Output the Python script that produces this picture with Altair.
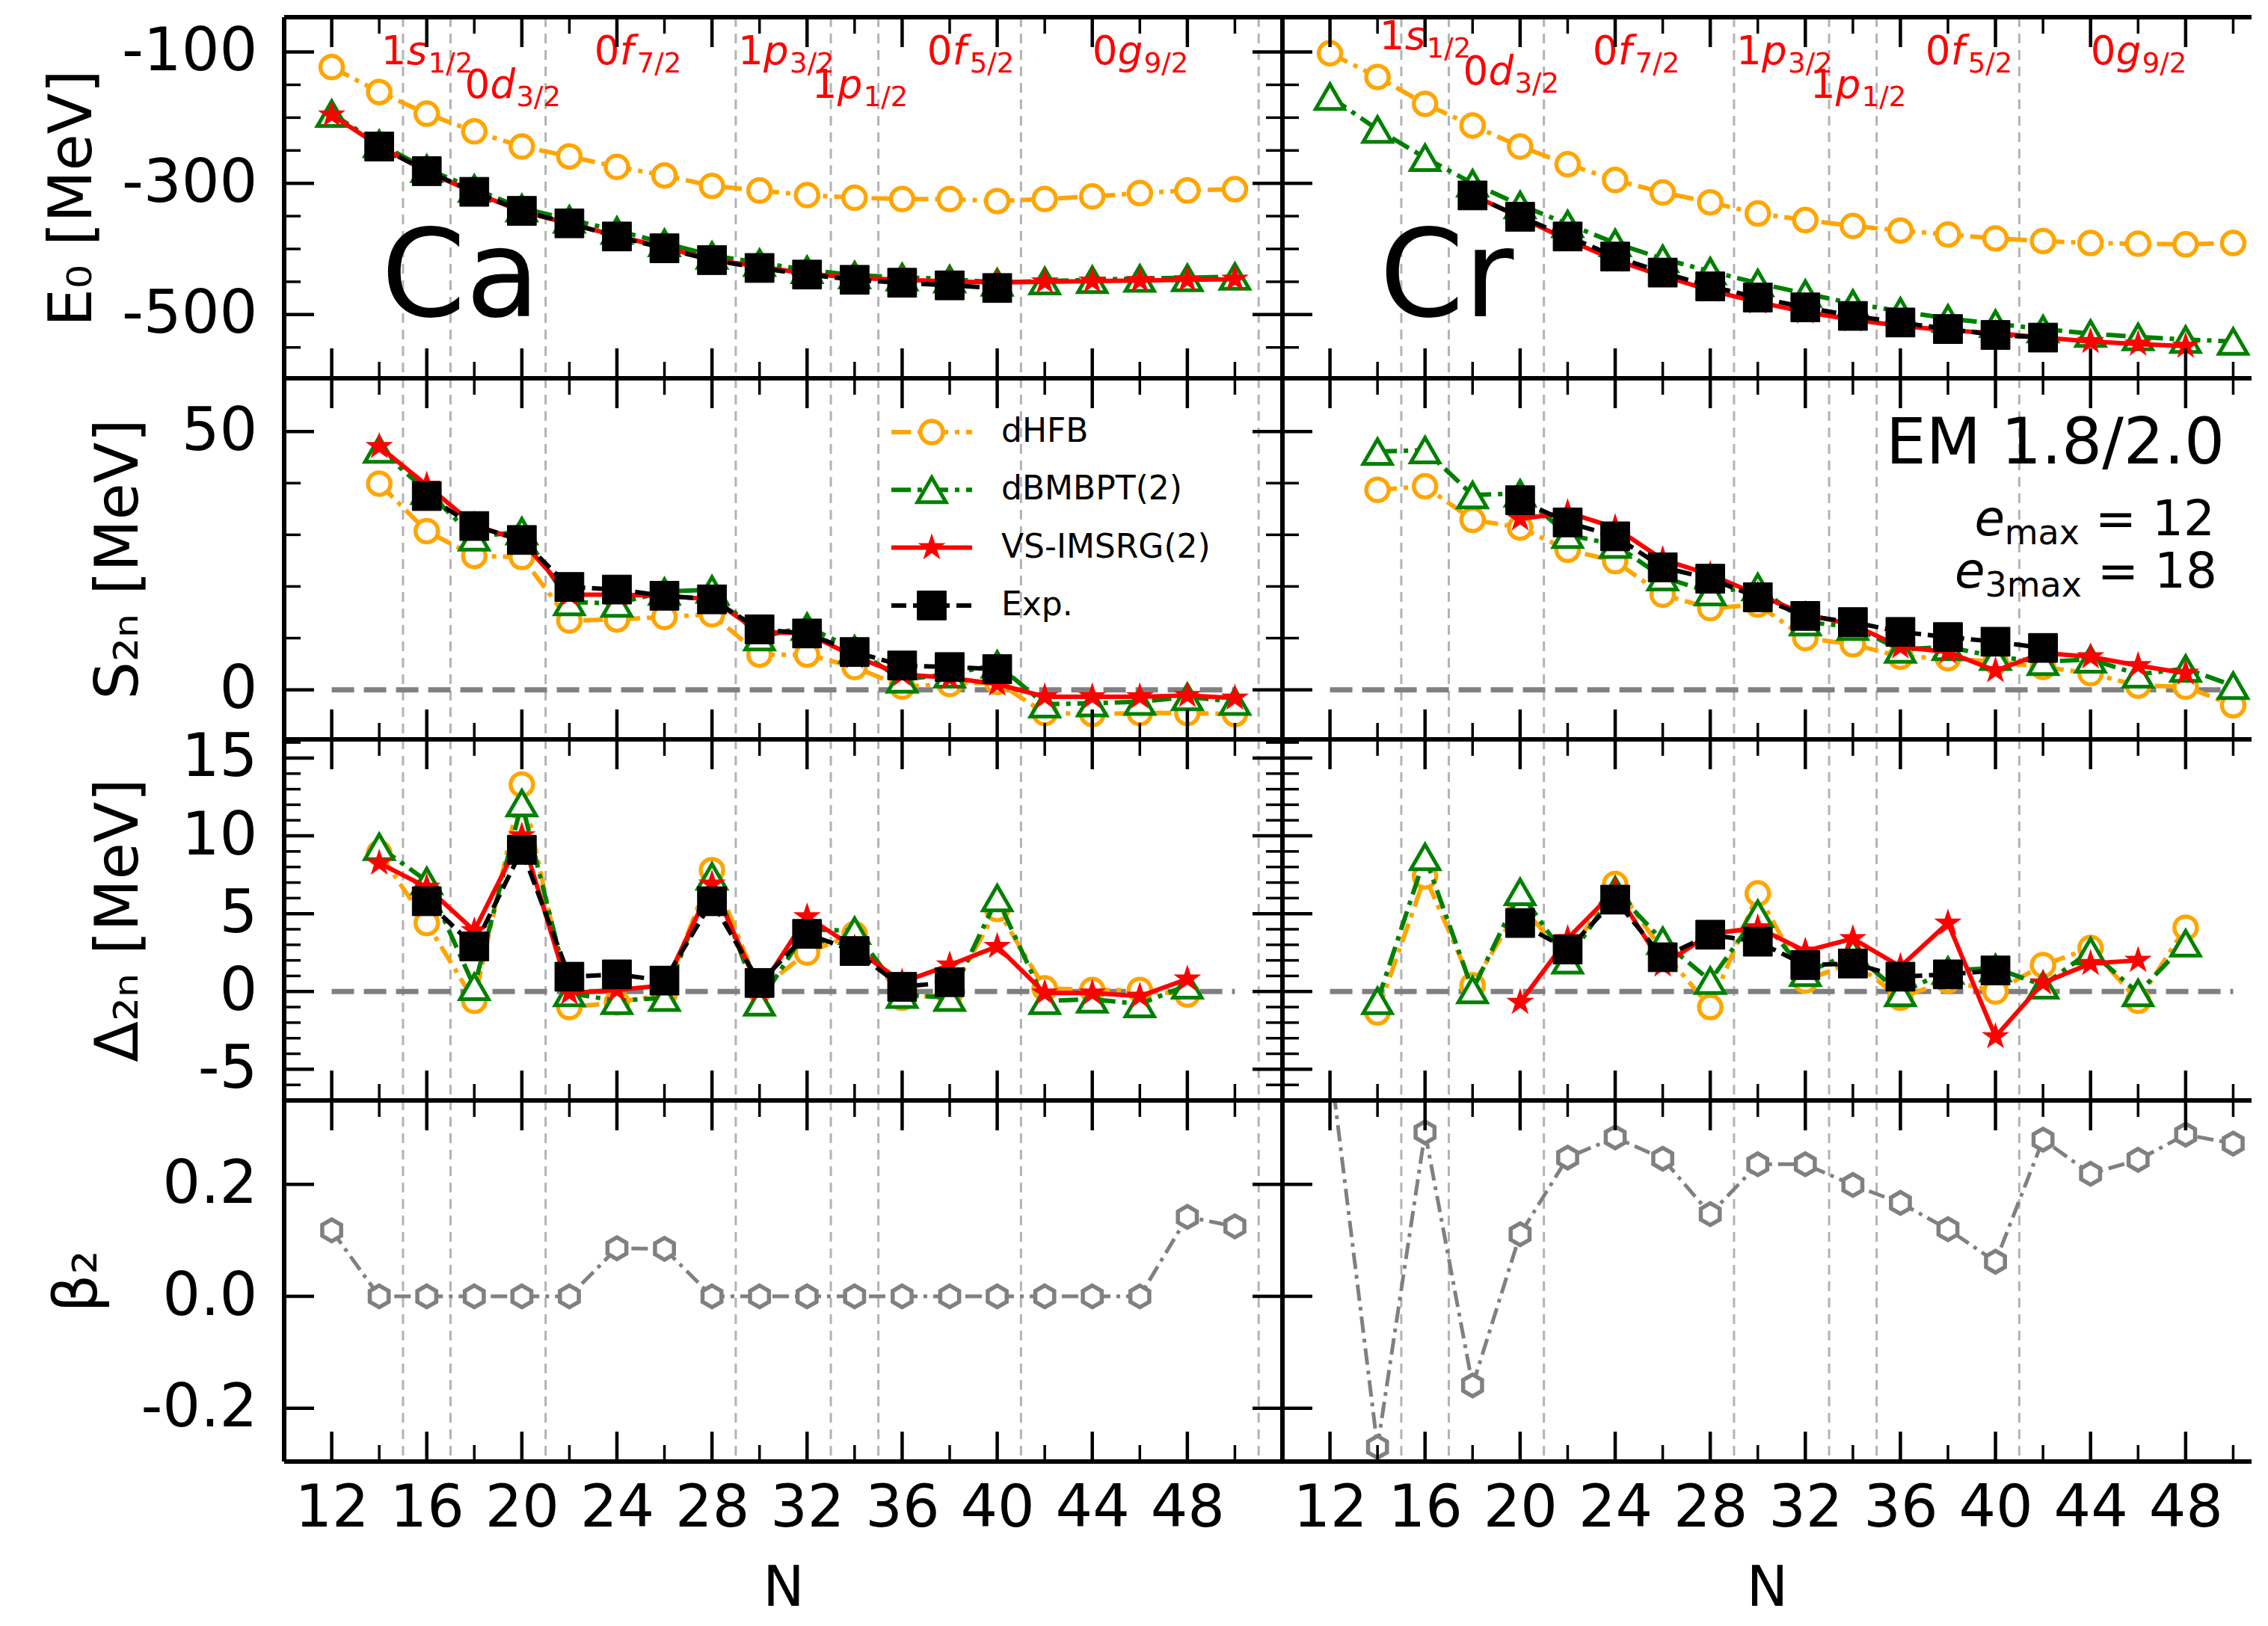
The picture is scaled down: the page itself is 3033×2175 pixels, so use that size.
import altair as alt
import pandas as pd

FONT = "DejaVu Sans"

# ------------------------------------------------------------------ data
N_E0 = list(range(12, 52, 2))
N_S2N = list(range(14, 52, 2))
N_D2N = list(range(14, 50, 2))

# Ca
ca_e0_dhfb = [-123, -161, -194, -221, -244, -259, -275, -288, -304, -311, -318, -322, -324, -324, -327, -324, -320, -315, -311, -309]
ca_e0_bmbpt = [-194, -240, -278, -308, -338, -355, -372, -391, -410, -421, -432, -440, -443, -446, -451, -449, -447, -445, -444, -442]
ca_e0_imsrg = [-196, -243, -282.5, -314, -343, -361.5, -380, -398, -416, -427, -437.5, -444, -447, -449.5, -451, -450, -449, -448, -447, -446]
ca_e0_exp_N = list(range(14, 42, 2))
ca_e0_exp = [-244, -281.5, -313, -342, -361, -381, -399, -417, -429, -439, -447, -451.5, -455.5, -459.5]

ca_s2n_dhfb = [39.9, 30.7, 25.9, 25.7, 13.4, 13.6, 14.1, 14.6, 6.8, 6.8, 4.4, 0.6, 1.1, 1.5, -4.5, -4.7, -4.5, -4.5, -4.7]
ca_s2n_bmbpt = [46.5, 38.5, 29.5, 30.7, 17.0, 16.7, 19.0, 19.4, 10.2, 12.2, 7.8, 2.0, 3.0, 4.9, -2.8, -2.6, -2.3, -1.4, -2.3]
ca_s2n_imsrg = [47.1, 39.6, 31.9, 28.8, 18.4, 18.4, 18.2, 17.5, 11.2, 10.9, 6.4, 3.0, 2.3, 1.1, -1.35, -1.35, -1.35, -1.1, -1.6]
ca_s2n_exp_N = list(range(16, 42, 2))
ca_s2n_exp = [37.5, 31.7, 29.0, 19.9, 19.4, 18.2, 17.5, 11.7, 10.9, 7.3, 4.7, 4.4, 4.0]

ca_d2n_dhfb = [8.9, 4.4, -0.6, 13.3, -1.0, -0.7, -0.2, 7.8, 0.1, 2.5, 3.7, -0.4, -0.2, 5.3, 0.2, 0.1, 0.1, -0.2]
ca_d2n_bmbpt = [9.3, 7.1, 0.3, 12.1, -0.1, -0.6, -0.4, 7.4, -0.7, 4.0, 3.9, -0.2, -0.4, 6.0, -0.6, -0.5, -0.8, 0.4]
ca_d2n_imsrg = [8.25, 6.7, 3.9, 10.0, -0.1, 0.1, 0.4, 6.9, 0.1, 4.8, 2.8, 0.6, 1.7, 2.9, -0.1, -0.1, -0.3, 0.8]
ca_d2n_exp_N = list(range(16, 40, 2))
ca_d2n_exp = [5.8, 2.9, 9.1, 0.95, 1.1, 0.7, 5.8, 0.55, 3.7, 2.6, 0.3, 0.6]

ca_beta2 = [0.118, 0, 0, 0, 0, 0, 0.086, 0.085, 0, 0, 0, 0, 0, 0, 0, 0, 0, 0, 0.142, 0.125]

# Cr
cr_e0_dhfb = [-102, -138, -179, -212, -244, -271, -295, -314, -329, -346, -356, -365, -372, -378, -384, -388, -391, -392, -393, -391]
cr_e0_bmbpt = [-168, -218, -261, -300, -333, -362, -391, -415, -434, -452, -468, -483, -495, -506, -514, -522, -529, -534, -538, -541]
cr_e0_imsrg_N = list(range(18, 50, 2))
cr_e0_imsrg = [-318, -352, -386, -417, -441, -463, -481, -496, -508, -517, -524, -528, -535, -541, -545, -548]
cr_e0_exp_N = list(range(18, 44, 2))
cr_e0_exp = [-318.5, -351, -381, -411.6, -436, -457, -474, -489, -502, -512, -522, -531, -535]

cr_s2n_dhfb = [38.7, 39.4, 32.9, 31.4, 27.1, 24.9, 18.4, 15.8, 16.5, 10.0, 8.8, 6.4, 6.1, 5.4, 4.4, 3.2, 0.8, 0.6, -3.0]
cr_s2n_bmbpt = [46.1, 46.4, 37.7, 38.0, 30.0, 28.1, 21.8, 18.9, 19.9, 13.1, 12.2, 7.8, 8.3, 6.4, 5.4, 5.9, 3.0, 4.1, 0.8]
cr_s2n_imsrg_N = list(range(20, 50, 2))
cr_s2n_imsrg = [33.1, 34.3, 31.4, 25.2, 22.3, 18.4, 14.6, 12.6, 8.3, 7.3, 3.7, 7.1, 6.4, 4.7, 3.2]
cr_s2n_exp_N = list(range(20, 44, 2))
cr_s2n_exp = [36.7, 32.4, 29.7, 23.7, 21.5, 17.9, 14.3, 13.1, 11.2, 10.2, 9.3, 8.1]

cr_d2n_dhfb = [-1.35, 7.4, 0.4, 5.5, 2.2, 6.9, 2.6, -1.0, 6.3, 0.7, 1.9, -0.4, 0.7, 0.0, 1.7, 2.8, -0.6, 4.1]
cr_d2n_bmbpt = [-0.6, 8.65, 0.1, 6.4, 2.0, 6.5, 3.25, 0.7, 5.0, 1.2, 2.5, -0.1, 1.35, 1.5, 0.4, 2.6, -0.1, 3.1]
cr_d2n_imsrg_N = list(range(20, 48, 2))
cr_d2n_imsrg = [-0.7, 3.4, 6.5, 1.7, 3.7, 4.1, 2.6, 3.4, 1.6, 4.4, -2.9, 0.55, 1.8, 2.0]
cr_d2n_exp_N = list(range(20, 42, 2))
cr_d2n_exp = [4.4, 2.7, 5.9, 2.2, 3.65, 3.2, 1.7, 1.8, 0.95, 1.1, 1.35]

cr_beta2 = [0.42, -0.269, 0.293, -0.159, 0.111, 0.248, 0.284, 0.246, 0.147, 0.236, 0.236, 0.199, 0.167, 0.12, 0.062, 0.28, 0.219, 0.244, 0.289, 0.273]

# shell-closure guide lines and orbital labels
shell_lines = [15, 17, 21, 29, 33, 35, 41, 51]
orb_N = [14.08, 17.6, 23.05, 29.1, 32.2, 37.05, 44.0]
orb_num = ["1", "0", "0", "1", "1", "0", "0"]
orb_l = ["s", "d", "f", "p", "p", "f", "g"]
orb_j = ["1/2", "3/2", "7/2", "3/2", "1/2", "5/2", "9/2"]
orb_y_ca = [-119, -170, -119, -119, -170, -119, -119]
orb_y_cr = [-96, -149, -119, -119, -170, -119, -119]

series_names = ["dHFB", "dBMBPT(2)", "VS-IMSRG(2)", "Exp."]
x_major = list(range(12, 52, 4))
x_minor = list(range(14, 52, 4))
x_labels = list(range(12, 52, 4))

# ------------------------------------------------------------------ styling
STAR = "M0,-1L0.2245,-0.309L0.951,-0.309L0.3633,0.118L0.5878,0.809L0,0.382L-0.5878,0.809L-0.3633,0.118L-0.951,-0.309L-0.2245,-0.309Z"
HEX = "M0,-1L0.866,-0.5L0.866,0.5L0,1L-0.866,0.5L-0.866,-0.5Z"
STY = {
    "dHFB": dict(color="#FFA500", dash=[26, 9, 6, 9], shape="circle", size=900, fill="white", msw=5.5),
    "dBMBPT(2)": dict(color="#008000", dash=[26, 9, 6, 9], shape="triangle-up", size=1450, fill="white", msw=5),
    "VS-IMSRG(2)": dict(color="#FF0000", dash=None, shape=STAR, size=1050, fill="#FF0000", msw=2),
    "Exp.": dict(color="#000000", dash=[20, 9], shape="square", size=1500, fill="#000000", msw=1),
    "beta": dict(color="#808080", dash=[22, 8, 5, 8], shape=HEX, size=850, fill="white", msw=5.5),
}

W_L, W_R, H = 1335, 1296, 483
PX_PER_N = W_L / 42.0
XDOM = {0: [10, 52], 1: [10, 10 + W_R / PX_PER_N]}
YDOM = [[-597, -47], [-9.6, 60.3], [-7, 16.2], [-0.295, 0.35]]
Y_MAJOR = [[-100, -300, -500], [0, 50], [15, 10, 5, 0, -5], [0.2, 0.0, -0.2]]
Y_MINOR = [[-150, -200, -250, -350, -400, -450, -550], [10, 20, 30, 40],
           [-6, -4, -3, -2, -1, 1, 2, 3, 4, 6, 7, 8, 9, 11, 12, 13, 14, 16], []]
Y_FMT = ["d", "d", "d", ".1f"]
Y_TITLE = ["E₀ [MeV]", "S₂ₙ [MeV]", "Δ₂ₙ [MeV]", "β₂"]
MAJ_LEN, MIN_LEN = 40, 22


def enc_x(row, col, field="N"):
    if row == 3:
        axis = alt.Axis(values=x_labels, ticks=False, domain=False, grid=False,
                        labelFont=FONT, labelFontSize=78, labelPadding=24, labelColor="black",
                        labelFlush=False, labelOverlap=False, labelLimit=400,
                        title="N", titleFont=FONT, titleFontSize=74, titleFontWeight="normal",
                        titlePadding=32, titleColor="black")
    else:
        axis = None
    return alt.X(f"{field}:Q", scale=alt.Scale(domain=XDOM[col], nice=False, zero=False), axis=axis)


def enc_y(row, col, field="v"):
    if col == 0:
        axis = alt.Axis(values=Y_MAJOR[row], format=Y_FMT[row],
                        labelExpr="replace(datum.label, '\u2212', '-')",
                        ticks=False, domain=False, grid=False,
                        labelFont=FONT, labelFontSize=80, labelPadding=36, labelColor="black",
                        labelFlush=False, labelOverlap=False, labelLimit=400,
                        title=Y_TITLE[row], titleFont=FONT, titleFontSize=80, titleFontWeight="normal",
                        titlePadding=42, titleColor="black", titleLimit=800)
    else:
        axis = None
    return alt.Y(f"{field}:Q", scale=alt.Scale(domain=YDOM[row], nice=False, zero=False), axis=axis)


def series(row, col, Ns, vals, key):
    s = STY[key]
    df = pd.DataFrame({"N": Ns, "v": vals})
    lk = dict(color=s["color"], strokeWidth=6 if key != "beta" else 5, clip=True)
    if s["dash"]:
        lk["strokeDash"] = s["dash"]
    line = alt.Chart(df).mark_line(**lk).encode(x=enc_x(row, col), y=enc_y(row, col))
    pts = alt.Chart(df).mark_point(shape=s["shape"], size=s["size"], filled=True, fill=s["fill"],
                                   stroke=s["color"], strokeWidth=s["msw"], opacity=1,
                                   fillOpacity=1, strokeOpacity=1, clip=True).encode(
        x=enc_x(row, col), y=enc_y(row, col))
    return [line, pts]


def frame_and_ticks(row, col):
    W = W_L if col == 0 else W_R
    one = pd.DataFrame({"k": [0]})
    out = []
    for vals, L, sw in ((x_major, MAJ_LEN, 4.5), (x_minor, MIN_LEN, 3.5)):
        df = pd.DataFrame({"N": vals})
        out.append(alt.Chart(df).mark_rule(color="black", strokeWidth=sw).encode(
            x=enc_x(row, col), y=alt.value(0), y2=alt.value(L)))
        out.append(alt.Chart(df).mark_rule(color="black", strokeWidth=sw).encode(
            x=enc_x(row, col), y=alt.value(H), y2=alt.value(H - L)))
    for vals, L, sw in ((Y_MAJOR[row], MAJ_LEN, 4.5), (Y_MINOR[row], MIN_LEN, 3.5)):
        if not vals:
            continue
        df = pd.DataFrame({"v": vals})
        out.append(alt.Chart(df).mark_rule(color="black", strokeWidth=sw).encode(
            y=enc_y(row, col), x=alt.value(0), x2=alt.value(L)))
        if col == 0:
            out.append(alt.Chart(df).mark_rule(color="black", strokeWidth=sw).encode(
                y=enc_y(row, col), x=alt.value(W), x2=alt.value(W - L)))
    fr = dict(color="black", strokeWidth=6)
    out.append(alt.Chart(one).mark_rule(**fr).encode(x=alt.value(0), x2=alt.value(W), y=alt.value(0)))
    out.append(alt.Chart(one).mark_rule(**fr).encode(x=alt.value(0), x2=alt.value(W), y=alt.value(H)))
    out.append(alt.Chart(one).mark_rule(**fr).encode(x=alt.value(0), y=alt.value(0), y2=alt.value(H)))
    if col == 0:
        out.append(alt.Chart(one).mark_rule(**fr).encode(x=alt.value(W), y=alt.value(0), y2=alt.value(H)))
    return out


def guides(row, col):
    df = pd.DataFrame({"N": shell_lines})
    return [alt.Chart(df).mark_rule(color="#b3b3b3", strokeWidth=3, strokeDash=[13, 9], clip=True).encode(
        x=enc_x(row, col))]


def zero_line(row, col):
    df = pd.DataFrame({"N": [12], "N2": [50], "v": [0]})
    return [alt.Chart(df).mark_rule(color="#808080", strokeWidth=7, strokeDash=[30, 13]).encode(
        x=enc_x(row, col), x2=alt.X2("N2:Q"), y=enc_y(row, col))]


def orbital_labels(row, col, ys):
    df = pd.DataFrame({"N": orb_N, "v": ys, "num": orb_num, "l": orb_l, "j": orb_j})
    base = dict(align="left", baseline="alphabetic", color="#FF0000", font=FONT)
    out = [
        alt.Chart(df).mark_text(fontSize=53, **base).encode(x=enc_x(row, col), y=enc_y(row, col), text="num:N"),
        alt.Chart(df).mark_text(fontSize=53, fontStyle="italic", dx=34, **base).encode(
            x=enc_x(row, col), y=enc_y(row, col), text="l:N"),
    ]
    for letters, dx in ((["s"], 63), (["d", "p", "g"], 69), (["f"], 57)):
        out.append(alt.Chart(df).transform_filter(alt.FieldOneOfPredicate(field="l", oneOf=letters)).mark_text(
            fontSize=37, dx=dx, dy=11, **base).encode(x=enc_x(row, col), y=enc_y(row, col), text="j:N"))
    return out


def element_label(row, col, name):
    df = pd.DataFrame({"N": [14.08], "v": [-502], "t": [name]})
    return [alt.Chart(df).mark_text(align="left", baseline="alphabetic", fontSize=162, font=FONT,
                                    color="black").encode(x=enc_x(row, col), y=enc_y(row, col), text="t:N")]


def legend_layers():
    out = []
    for i, name in enumerate(series_names):
        s = STY[name]
        y = 72 + 77.3 * i
        df = pd.DataFrame({"label": [name]})
        rk = dict(color=s["color"], strokeWidth=6)
        if s["dash"]:
            rk["strokeDash"] = s["dash"]
        out.append(alt.Chart(df).mark_rule(**rk).encode(x=alt.value(812), x2=alt.value(920), y=alt.value(y)))
        out.append(alt.Chart(df).mark_point(shape=s["shape"], size=s["size"], filled=True, fill=s["fill"],
                                            stroke=s["color"], strokeWidth=s["msw"], opacity=1).encode(
            x=alt.value(866), y=alt.value(y)))
        out.append(alt.Chart(df).mark_text(align="left", baseline="middle", fontSize=44, font=FONT,
                                           color="black").encode(x=alt.value(959), y=alt.value(y), text="label:N"))
    return out


def label_text(txt, x, y, size, align="right", style="normal"):
    df = pd.DataFrame({"t": [txt]})
    return alt.Chart(df).mark_text(align=align, baseline="alphabetic", fontSize=size, font=FONT,
                                   fontStyle=style, color="black").encode(
        x=alt.value(x), y=alt.value(y), text="t:N")


def model_text():
    return [
        label_text("EM 1.8/2.0", 1260, 114, 85),
        label_text("= 12", 1247, 210, 66),
        label_text("max", 1066, 222, 46),
        label_text("e", 966, 210, 66, style="italic"),
        label_text("= 18", 1250, 280, 66),
        label_text("3max", 1069, 292, 46),
        label_text("e", 939.5, 280, 66, style="italic"),
    ]


DATA = {
    (0, 0): [(N_E0, ca_e0_dhfb, "dHFB"), (N_E0, ca_e0_bmbpt, "dBMBPT(2)"), (N_E0, ca_e0_imsrg, "VS-IMSRG(2)"), (ca_e0_exp_N, ca_e0_exp, "Exp.")],
    (0, 1): [(N_E0, cr_e0_dhfb, "dHFB"), (N_E0, cr_e0_bmbpt, "dBMBPT(2)"), (cr_e0_imsrg_N, cr_e0_imsrg, "VS-IMSRG(2)"), (cr_e0_exp_N, cr_e0_exp, "Exp.")],
    (1, 0): [(N_S2N, ca_s2n_dhfb, "dHFB"), (N_S2N, ca_s2n_bmbpt, "dBMBPT(2)"), (N_S2N, ca_s2n_imsrg, "VS-IMSRG(2)"), (ca_s2n_exp_N, ca_s2n_exp, "Exp.")],
    (1, 1): [(N_S2N, cr_s2n_dhfb, "dHFB"), (N_S2N, cr_s2n_bmbpt, "dBMBPT(2)"), (cr_s2n_imsrg_N, cr_s2n_imsrg, "VS-IMSRG(2)"), (cr_s2n_exp_N, cr_s2n_exp, "Exp.")],
    (2, 0): [(N_D2N, ca_d2n_dhfb, "dHFB"), (N_D2N, ca_d2n_bmbpt, "dBMBPT(2)"), (N_D2N, ca_d2n_imsrg, "VS-IMSRG(2)"), (ca_d2n_exp_N, ca_d2n_exp, "Exp.")],
    (2, 1): [(N_D2N, cr_d2n_dhfb, "dHFB"), (N_D2N, cr_d2n_bmbpt, "dBMBPT(2)"), (cr_d2n_imsrg_N, cr_d2n_imsrg, "VS-IMSRG(2)"), (cr_d2n_exp_N, cr_d2n_exp, "Exp.")],
    (3, 0): [(N_E0, ca_beta2, "beta")],
    (3, 1): [(N_E0, cr_beta2, "beta")],
}

panels = []
for row in range(4):
    for col in range(2):
        layers = guides(row, col)
        if row in (1, 2):
            layers += zero_line(row, col)
        if row == 0:
            layers += orbital_labels(row, col, orb_y_ca if col == 0 else orb_y_cr)
            layers += element_label(row, col, "Ca" if col == 0 else "Cr")
        for Ns, vals, key in DATA[(row, col)]:
            layers += series(row, col, Ns, vals, key)
        if row == 1 and col == 0:
            layers += legend_layers()
        if row == 1 and col == 1:
            layers += model_text()
        layers += frame_and_ticks(row, col)
        panels.append(alt.layer(*layers).properties(width=W_L if col == 0 else W_R, height=H))

chart = alt.concat(*panels, columns=2, spacing=0, bounds="flush", align="each").properties(
    padding={"left": 49, "top": 12, "right": 0, "bottom": 8}
).configure_view(stroke=None).configure_axis(labelColor="black", titleColor="black")

chart.save("out.html", embed_options={"renderer": "svg", "actions": False})
